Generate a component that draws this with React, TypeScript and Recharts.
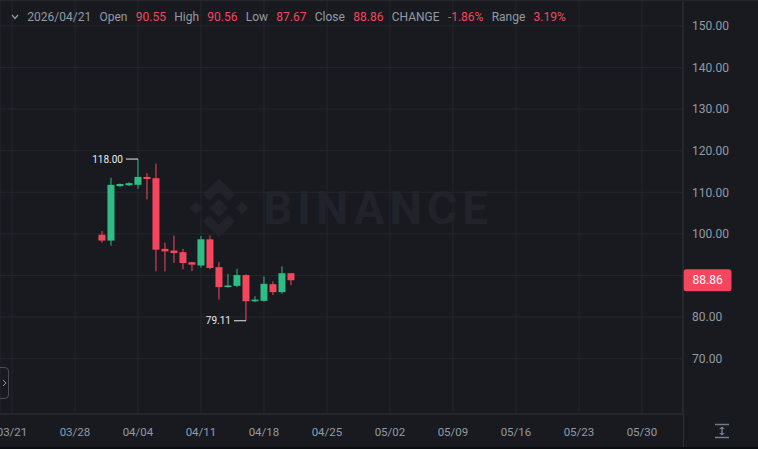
import { Bar, CartesianGrid, ComposedChart, ReferenceLine, XAxis, YAxis } from "recharts";

const startDate = "2026-03-21";
const tickDates = [
  "2026-03-21", "2026-03-28", "2026-04-04", "2026-04-11", "2026-04-18", "2026-04-25",
  "2026-05-02", "2026-05-09", "2026-05-16", "2026-05-23", "2026-05-30",
];
const candleDates = [
  "2026-03-31", "2026-04-01", "2026-04-02", "2026-04-03", "2026-04-04", "2026-04-05",
  "2026-04-06", "2026-04-07", "2026-04-08", "2026-04-09", "2026-04-10", "2026-04-11",
  "2026-04-12", "2026-04-13", "2026-04-14", "2026-04-15", "2026-04-16", "2026-04-17",
  "2026-04-18", "2026-04-19", "2026-04-20", "2026-04-21",
];
const openPrices = [99.8, 98.4, 111.5, 111.7, 111.8, 113.7, 113.4, 96.4, 96.0, 95.6, 93.2, 92.4, 98.7, 92.0, 87.2, 87.5, 90.1, 83.8, 83.9, 87.9, 86.0, 90.55];
const highPrices = [100.7, 113.5, 112.1, 112.4, 118.0, 114.6, 116.9, 97.9, 99.6, 96.4, 93.3, 99.5, 99.6, 93.2, 90.4, 91.6, 90.3, 85.0, 89.8, 88.6, 92.2, 90.56];
const lowPrices = [97.9, 97.2, 111.3, 111.5, 110.9, 108.3, 91.0, 91.0, 93.0, 91.5, 91.1, 91.9, 91.5, 84.2, 87.1, 87.2, 79.11, 83.6, 83.7, 85.3, 85.6, 87.67];
const closePrices = [98.4, 111.8, 112.0, 112.2, 113.7, 113.2, 96.2, 95.8, 95.4, 93.0, 92.6, 98.7, 91.8, 87.2, 87.6, 90.1, 83.8, 84.2, 88.0, 86.0, 90.54, 88.86];
const priceTicks = [70, 80, 90, 100, 110, 120, 130, 140, 150];

const BG = "#181a20";
const GRID = "#23272e";
const LINE = "#2b3139";
const TEXT = "#929aa5";
const UP = "#2ebd85";
const DOWN = "#f6465d";

const dayOf = (d: string) => Math.round((Date.parse(d) - Date.parse(startDate)) / 86400000);
const mmdd = (d: string) => d.slice(5).replace("-", "/");

const rows = candleDates.map((d, i) => ({
  day: dayOf(d),
  open: openPrices[i],
  high: highPrices[i],
  low: lowPrices[i],
  close: closePrices[i],
  range: [lowPrices[i], highPrices[i]],
}));
const xTicks = tickDates.map(dayOf);
const tickLabel: Record<number, string> = {};
tickDates.forEach((d) => (tickLabel[dayOf(d)] = mmdd(d)));

const maxHigh = Math.max(...highPrices);
const minLow = Math.min(...lowPrices);
const last = rows[rows.length - 1];
const prevClose = rows[rows.length - 2].close;
const change = ((last.close - prevClose) / prevClose) * 100;
const rangePct = ((last.high - last.low) / last.open) * 100;

function Candle(props: any) {
  const { x, width, payload } = props;
  let { y, height } = props;
  if (height < 0) {
    y = y + height;
    height = -height;
  }
  const { open, close, high, low } = payload;
  const color = close >= open ? UP : DOWN;
  const k = high === low ? 0 : height / (high - low);
  const py = (v: number) => y + (high - v) * k;
  const cx = x + width / 2;
  const top = py(Math.max(open, close));
  const bot = py(Math.min(open, close));
  return (
    <g>
      <rect x={cx - 0.5} y={y} width={1} height={Math.max(height, 1)} fill={color} />
      <rect x={cx - 3.5} y={top} width={7} height={Math.max(bot - top, 1)} fill={color} />
      {high === maxHigh && (
        <g>
          <line x1={cx - 12} x2={cx} y1={py(high)} y2={py(high)} stroke="#eaecef" strokeWidth={1} />
          <text x={cx - 15} y={py(high)} dy="0.35em" textAnchor="end" fontSize={10} fill="#eaecef">
            {high.toFixed(2)}
          </text>
        </g>
      )}
      {low === minLow && (
        <g>
          <line x1={cx - 12} x2={cx} y1={py(low)} y2={py(low)} stroke="#eaecef" strokeWidth={1} />
          <text x={cx - 15} y={py(low)} dy="0.35em" textAnchor="end" fontSize={10} fill="#eaecef">
            {low.toFixed(2)}
          </text>
        </g>
      )}
    </g>
  );
}

function PriceTick(props: any) {
  const { x, y, payload } = props;
  if (Math.abs(payload.value - last.close) < 4) return <g />;
  return (
    <text x={x + 1} y={y} dy="0.35em" textAnchor="start" fontSize={12} fill={TEXT}>
      {Number(payload.value).toFixed(2)}
    </text>
  );
}

function DateTick(props: any) {
  const { x, y, payload } = props;
  return (
    <text x={x} y={y + 6} dy="0.71em" textAnchor="middle" fontSize={11.5} fill={TEXT}>
      {tickLabel[payload.value]}
    </text>
  );
}

function PriceBadge(props: any) {
  const { x, y, width } = props.viewBox;
  const left = x + width + 0.5;
  return (
    <g>
      <rect x={left} y={y - 11} width={48} height={22} rx={3} fill={DOWN} />
      <text x={left + 9} y={y} dy="0.35em" fontSize={12} fill="#ffffff">
        {last.close.toFixed(2)}
      </text>
    </g>
  );
}

function Header() {
  const items: [string, string][] = [
    ["Open", last.open.toFixed(2)],
    ["High", last.high.toFixed(2)],
    ["Low", last.low.toFixed(2)],
    ["Close", last.close.toFixed(2)],
    ["CHANGE", `${change.toFixed(2)}%`],
    ["Range", `${rangePct.toFixed(2)}%`],
  ];
  return (
    <div
      style={{
        position: "absolute",
        left: 11,
        top: 5,
        height: 24,
        display: "flex",
        alignItems: "center",
        gap: 8.3,
        fontSize: 12,
        color: TEXT,
        whiteSpace: "nowrap",
      }}
    >
      <svg width={8} height={6}>
        <polyline points="1,1 4,4.5 7,1" fill="none" stroke={TEXT} strokeWidth={1.2} />
      </svg>
      <span>{candleDates[candleDates.length - 1].replace(/-/g, "/")}</span>
      {items.map(([k, v]) => (
        <span key={k} style={{ display: "flex", gap: 8.3 }}>
          <span>{k}</span>
          <span style={{ color: DOWN }}>{v}</span>
        </span>
      ))}
    </div>
  );
}

function Watermark() {
  const c = "#202329";
  return (
    <div style={{ position: "absolute", left: 189, top: 178, display: "flex", alignItems: "center" }}>
      <svg width={60} height={60} viewBox="-30 -30 60 60">
        <polygon points="0,-9 9,0 0,9 -9,0" fill={c} />
        <polygon points="-23,-6.5 -16.5,0 -23,6.5 -29.5,0" fill={c} />
        <polygon points="23,-6.5 29.5,0 23,6.5 16.5,0" fill={c} />
        <polygon points="0,-29.5 16,-13.5 9.5,-7 0,-16.5 -9.5,-7 -16,-13.5" fill={c} />
        <polygon points="0,29.5 16,13.5 9.5,7 0,16.5 -9.5,7 -16,13.5" fill={c} />
      </svg>
      <span
        style={{
          marginLeft: 14,
          fontSize: 46,
          fontWeight: 700,
          letterSpacing: 5,
          color: c,
          fontFamily: "Roboto, sans-serif",
          lineHeight: "60px",
        }}
      >
        BINANCE
      </span>
    </div>
  );
}

export default function App() {
  return (
    <div
      style={{
        position: "absolute",
        left: 0,
        top: 0,
        width: 758,
        height: 449,
        background: BG,
        overflow: "hidden",
        fontFamily: "Roboto, sans-serif",
      }}
    >
      <Watermark />
      <div style={{ position: "absolute", left: 0, top: 0 }}>
        <ComposedChart width={758} height={449} data={rows} margin={{ top: 0, right: 0, bottom: 0, left: 0 }}>
          <CartesianGrid stroke={GRID} />
          <XAxis
            dataKey="day"
            type="number"
            domain={[-1.33, 74.56]}
            ticks={xTicks}
            height={35}
            tick={<DateTick />}
            tickLine={false}
            axisLine={{ stroke: LINE }}
            allowDataOverflow
          />
          <YAxis
            orientation="right"
            type="number"
            domain={[56.69, 156.25]}
            ticks={priceTicks}
            width={75}
            tick={<PriceTick />}
            tickLine={false}
            axisLine={{ stroke: LINE }}
            allowDataOverflow
          />
          <Bar dataKey="range" barSize={7} shape={(p: any) => <Candle {...p} />} isAnimationActive={false} />
          <ReferenceLine y={last.close} stroke="none" label={(p: any) => <PriceBadge {...p} />} />
        </ComposedChart>
      </div>
      <Header />
      <div style={{ position: "absolute", left: 0, top: 0, width: 758, height: 1, background: GRID }} />
      <div style={{ position: "absolute", left: 682.5, top: 414, width: 1, height: 33, background: LINE }} />
      <div
        style={{
          position: "absolute",
          left: -5,
          top: 367,
          width: 12,
          height: 30,
          border: "1px solid #474d57",
          borderRadius: 4,
        }}
      >
        <svg width={12} height={30} style={{ position: "absolute", left: 0, top: 0 }}>
          <polyline points="7,12 10,15 7,18" fill="none" stroke={TEXT} strokeWidth={1} />
        </svg>
      </div>
      <svg width={16} height={16} style={{ position: "absolute", left: 714, top: 423 }}>
        <line x1={1} x2={15} y1={1.5} y2={1.5} stroke="#707a8a" strokeWidth={1.5} />
        <line x1={1} x2={15} y1={14.5} y2={14.5} stroke="#707a8a" strokeWidth={1.5} />
        <line x1={8} x2={8} y1={4} y2={12} stroke="#707a8a" strokeWidth={1.5} />
        <polygon points="5,6 8,3.5 11,6" fill="#707a8a" />
        <polygon points="5,10 8,12.5 11,10" fill="#707a8a" />
      </svg>
      <div style={{ position: "absolute", left: 0, top: 447, width: 758, height: 2, background: "#0b0e11" }} />
    </div>
  );
}
